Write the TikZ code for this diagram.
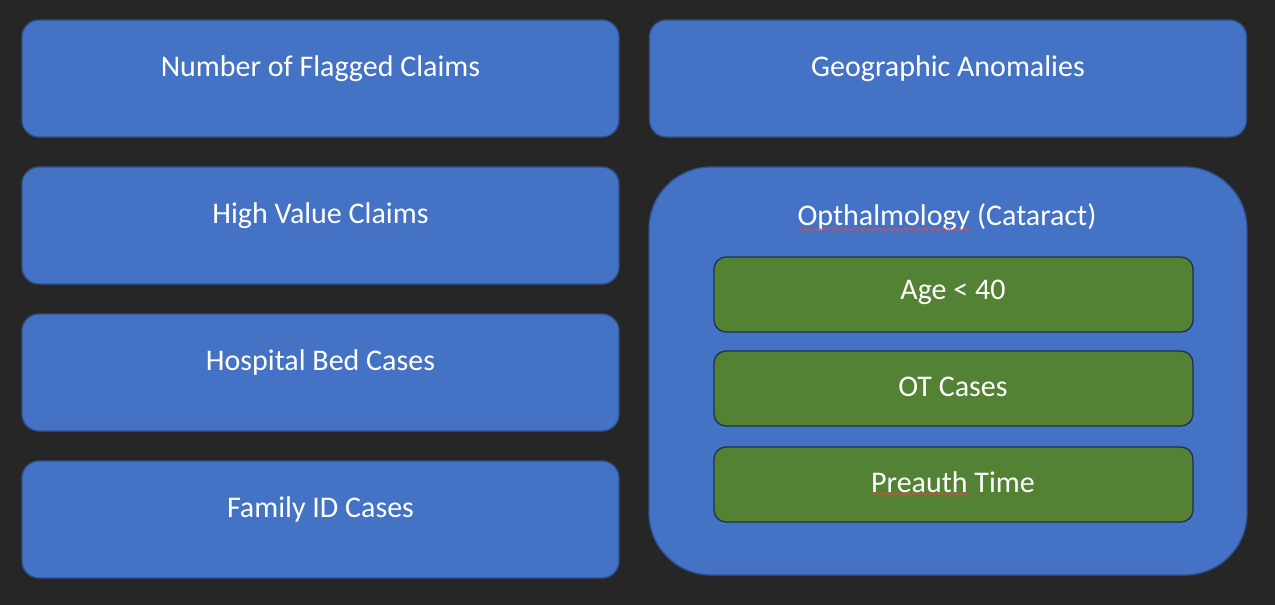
\documentclass[tikz,border=0pt]{standalone}
\usepackage{fontspec}
\setmainfont{Carlito}
\usetikzlibrary{decorations.pathmorphing}
\definecolor{bg}{HTML}{262626}
\definecolor{tileblue}{HTML}{4472C4}
\definecolor{tileedge}{HTML}{2F528F}
\definecolor{tilegreen}{HTML}{548235}
\definecolor{greenedge}{HTML}{1F3050}
\definecolor{squiggle}{HTML}{E04848}
\begin{document}
\begin{tikzpicture}[x=1pt,y=-1pt,
  tile/.style={draw=tileedge, fill=tileblue, line width=1.3pt, rounded corners=17pt,
    minimum width=597pt, minimum height=117pt, inner sep=0pt, outer sep=0pt},
  bigtile/.style={draw=tileedge, fill=tileblue, line width=1.3pt, rounded corners=62pt,
    minimum width=598pt, minimum height=408pt, inner sep=0pt, outer sep=0pt},
  subtile/.style={draw=greenedge, fill=tilegreen, line width=1.3pt, rounded corners=12pt,
    minimum width=479pt, minimum height=75pt, inner sep=0pt, outer sep=0pt},
  caption/.style={text=white, font=\fontsize{30}{35}\selectfont, inner sep=0pt, anchor=center},
  spell/.style={draw=squiggle, line width=0.8pt, decorate,
    decoration={snake, amplitude=1.2pt, segment length=5pt}}]
\useasboundingbox[fill=bg] (0,0) rectangle (1275,605);

% left column
\node[tile] (flagged) at (320.5,78.5) {};
\node[tile] (highval) at (320.5,225.5) {};
\node[tile] (hospbed) at (320.5,372.5) {};
\node[tile] (family)  at (320.5,519.5) {};
% right column
\node[tile] (geo) at (948,78.5) {};
\node[bigtile] (optha) at (948,371) {};
\node[subtile] (age)     at (953.5,294.5) {};
\node[subtile] (ot)      at (953.5,388.5) {};
\node[subtile] (preauth) at (953.5,484.5) {};

% captions
\node[caption] (tflagged) at (320.5,68.5) {Number of Flagged Claims};
\node[caption] (thighval) at (320.5,215.5) {High Value Claims};
\node[caption] (thospbed) at (320.5,362.5) {Hospital Bed Cases};
\node[caption] (tfamily)  at (320.5,509.5) {Family ID Cases};
\node[caption] (tgeo)     at (948,68.5) {Geographic Anomalies};
\node[caption] (toptha)   at (947,217.5) {Opthalmology (Cataract)};
\node[caption] (tage)     at (953,292.5) {Age < 40};
\node[caption] (tot)      at (953,386.5) {OT Cases};
\node[caption] (tpreauth) at (953,482.5) {Preauth Time};

% spelling marks under two words
\draw[spell] (798,229.5) -- (972,229.5);
\draw[spell] (871,494) -- (970,494);
\end{tikzpicture}
\end{document}
